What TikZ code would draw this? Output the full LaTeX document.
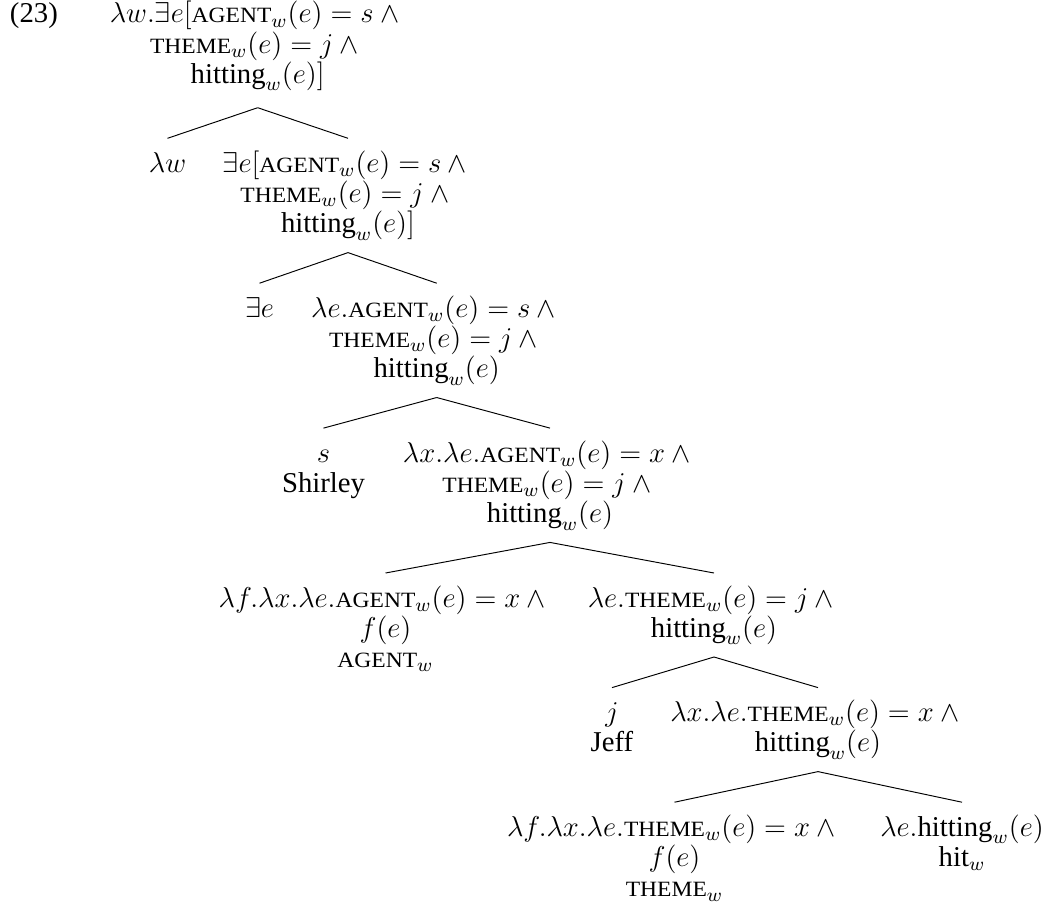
\documentclass[tikz,border=0pt]{standalone}
\usepackage{amsmath}
\usepackage{graphicx}
\usepackage{fontspec}
\setmainfont{Liberation Serif}
\usepackage{tikz}

\newcommand{\smcap}[1]{\scalebox{0.82}[0.76]{#1}}
\newcommand{\AGT}{\text{\smcap{AGENT}}}
\newcommand{\THM}{\text{\smcap{THEME}}}
\newcommand{\hitting}{\text{hitting}}
\newcommand{\tp}{\rule{0pt}{14.21pt}}

\begin{document}
\begin{tikzpicture}[
  x = 0.418pt, y = -0.418pt,
  every node/.style = {inner sep=0pt, outer sep=0pt, font=\fontsize{12}{12.67}\selectfont},
  lbl/.style = {align=center, anchor=north,
    execute at end node=\rule[-8.23pt]{0pt}{8.23pt}}
  ]
  \useasboundingbox (0,0) rectangle (1044,905);

  \node[anchor=base west] (@num) at (10,22.7) {(23)};
  \node[lbl] (@r) at (257.7,-11.3) {\tp$\lambda w.\exists e[\AGT_w(e) = s \wedge{}$\\$\THM_w(e) = j \wedge{}$\\$\hitting_w(e)]$};
  \node[lbl] (@lw) at (167.5,138.3) {\tp$\lambda w$};
  \node[lbl] (@xe) at (348,138.3) {\tp$\exists e[\AGT_w(e) = s \wedge{}$\\$\THM_w(e) = j \wedge{}$\\$\hitting_w(e)]$};
  \node[lbl] (@ex) at (259.5,283.2) {\tp$\exists e$};
  \node[lbl] (@le) at (436.7,283.2) {\tp$\lambda e.\AGT_w(e) = s \wedge{}$\\$\THM_w(e) = j \wedge{}$\\$\hitting_w(e)$};
  \node[lbl] (@s) at (323.5,428.1) {\tp$s$\\Shirley};
  \node[lbl] (@lxe) at (550,428.1) {\tp$\lambda x.\lambda e.\AGT_w(e) = x \wedge{}$\\$\THM_w(e) = j \wedge{}$\\$\hitting_w(e)$};
  \node[lbl] (@agt) at (385.5,573) {\tp$\lambda f.\lambda x.\lambda e.\AGT_w(e) = x \wedge{}$\\$f(e)$\\$\AGT_w$};
  \node[lbl] (@thj) at (714,573) {\tp$\lambda e.\THM_w(e) = j \wedge{}$\\$\hitting_w(e)$};
  \node[lbl] (@j) at (612,687.6) {\tp$j$\\Jeff};
  \node[lbl] (@lxth) at (818,687.6) {\tp$\lambda x.\lambda e.\THM_w(e) = x \wedge{}$\\$\hitting_w(e)$};
  \node[lbl] (@thm) at (674.5,802.2) {\tp$\lambda f.\lambda x.\lambda e.\THM_w(e) = x \wedge{}$\\$f(e)$\\$\THM_w$};
  \node[lbl] (@hit) at (962,802.2) {\tp$\lambda e.\hitting_w(e)$\\$\text{hit}_w$};

  \draw ([yshift=-1.96pt]@r.south) -- (@lw.north);
  \draw ([yshift=-1.96pt]@r.south) -- (@xe.north);
  \draw (@xe.south) -- (@ex.north);
  \draw (@xe.south) -- (@le.north);
  \draw (@le.south) -- (@s.north);
  \draw (@le.south) -- (@lxe.north);
  \draw (@lxe.south) -- (@agt.north);
  \draw (@lxe.south) -- (@thj.north);
  \draw (@thj.south) -- (@j.north);
  \draw (@thj.south) -- (@lxth.north);
  \draw (@lxth.south) -- (@thm.north);
  \draw (@lxth.south) -- (@hit.north);
\end{tikzpicture}
\end{document}
